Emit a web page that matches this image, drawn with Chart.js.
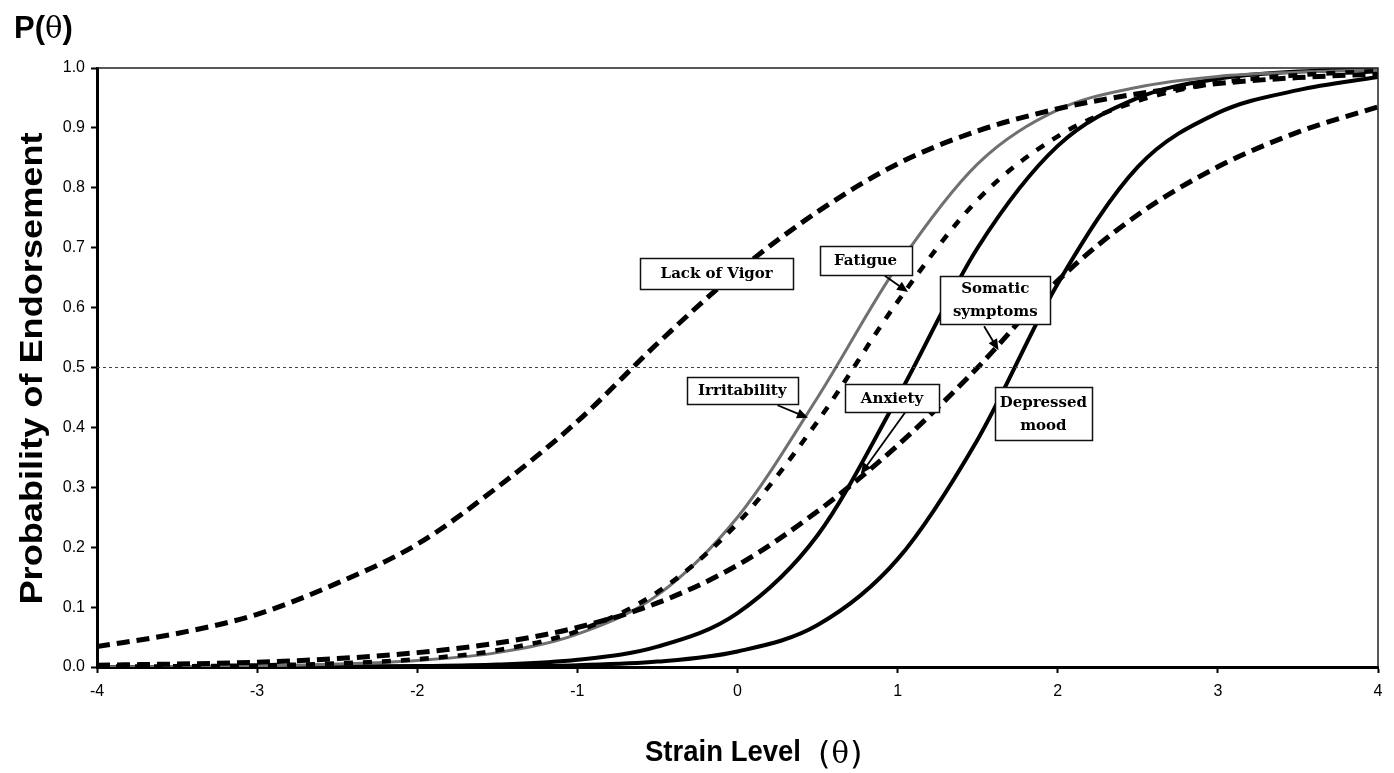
<!DOCTYPE html>
<html>
<head>
<meta charset="utf-8">
<script src="https://cdn.jsdelivr.net/npm/chart.js@4.4.1/dist/chart.umd.min.js"></script>
<style>
    html, body { margin: 0; padding: 0; background: #fff; }
    #wrap { width: 1394px; height: 773px; position: relative; }
</style>
</head>
<body>
<div id="wrap"><canvas id="irtChart"></canvas></div>
<script>
// Strain level (theta) sample points
const theta = [-4, -3.5, -3, -2.5, -2, -1.5, -1, -0.5, 0, 0.5, 1, 1.5, 2, 2.5, 3, 3.5, 4];

// P(theta) for each symptom
const lackOfVigor  = [0.034, 0.056, 0.088, 0.14, 0.205, 0.30, 0.41, 0.54, 0.66, 0.76, 0.84, 0.895, 0.932, 0.957, 0.974, 0.984, 0.99];
const irritability = [0.0003, 0.0008, 0.002, 0.005, 0.011, 0.024, 0.055, 0.12, 0.25, 0.45, 0.67, 0.84, 0.93, 0.968, 0.986, 0.993, 0.997];
const fatigue      = [0.0005, 0.0012, 0.0026, 0.006, 0.013, 0.028, 0.06, 0.125, 0.24, 0.41, 0.61, 0.78, 0.886, 0.945, 0.975, 0.988, 0.995];
const anxiety      = [0, 0.0001, 0.0002, 0.0006, 0.0015, 0.004, 0.012, 0.034, 0.09, 0.22, 0.45, 0.70, 0.87, 0.95, 0.982, 0.994, 0.998];
const somatic      = [0.003, 0.005, 0.008, 0.014, 0.024, 0.04, 0.066, 0.107, 0.17, 0.26, 0.37, 0.50, 0.645, 0.755, 0.835, 0.893, 0.935];
const depressed    = [0, 0, 0.0001, 0.0002, 0.0004, 0.001, 0.003, 0.009, 0.026, 0.07, 0.18, 0.38, 0.64, 0.835, 0.925, 0.963, 0.985];

// 50% reference line
const refTheta = [-4, 4];
const refLine  = [0.5, 0.5];

// Curve labels (boxes) and their arrows, in data units
const labelBoxes = [
    { lines: ["Lack of Vigor"], x: -0.13, y: 0.657, w: 153, h: 31 },
    { lines: ["Fatigue"], x: 0.80, y: 0.679, w: 92, h: 29 },
    { lines: ["Somatic", "symptoms"], x: 1.61, y: 0.613, w: 110, h: 48 },
    { lines: ["Irritability"], x: 0.03, y: 0.462, w: 111, h: 27 },
    { lines: ["Anxiety"], x: 0.965, y: 0.449, w: 94, h: 28 },
    { lines: ["Depressed", "mood"], x: 1.91, y: 0.423, w: 97, h: 53 }
];
const arrows = [
    { from: [0.92, 0.653], to: [1.065, 0.626] },   // Fatigue
    { from: [0.25, 0.437], to: [0.44, 0.416] },    // Irritability
    { from: [1.54, 0.569], to: [1.63, 0.529] },    // Somatic symptoms
    { from: [1.05, 0.426], to: [0.77, 0.322] }     // Anxiety
];

function pts(ys, xs) {
    return (xs || theta).map((t, i) => ({ x: t, y: ys[i] }));
}

function curve(label, ys, opts) {
    return Object.assign({
        label: label,
        data: pts(ys),
        borderColor: "#000",
        borderWidth: 4,
        pointRadius: 0,
        fill: false,
        cubicInterpolationMode: "monotone"
    }, opts);
}

function drawArrow(ctx, x1, y1, x2, y2) {
    const ang = Math.atan2(y2 - y1, x2 - x1);
    const len = 12, half = 0.42;
    ctx.beginPath();
    ctx.moveTo(x1, y1);
    ctx.lineTo(x2 - Math.cos(ang) * len * 0.7, y2 - Math.sin(ang) * len * 0.7);
    ctx.stroke();
    ctx.beginPath();
    ctx.moveTo(x2, y2);
    ctx.lineTo(x2 - len * Math.cos(ang - half), y2 - len * Math.sin(ang - half));
    ctx.lineTo(x2 - len * Math.cos(ang + half), y2 - len * Math.sin(ang + half));
    ctx.closePath();
    ctx.fill();
}

const overlay = {
    id: "overlay",
    afterDatasetsDraw(chart) {
        const { ctx, chartArea: a, scales: { x, y } } = chart;
        ctx.save();

        // thin top / right frame
        ctx.strokeStyle = "#222";
        ctx.lineWidth = 1.5;
        ctx.beginPath();
        ctx.moveTo(a.left, a.top);
        ctx.lineTo(a.right, a.top);
        ctx.lineTo(a.right, a.bottom);
        ctx.stroke();

        // arrows
        ctx.strokeStyle = "#000";
        ctx.fillStyle = "#000";
        ctx.lineWidth = 1.8;
        arrows.forEach(ar => {
            drawArrow(ctx,
                x.getPixelForValue(ar.from[0]), y.getPixelForValue(ar.from[1]),
                x.getPixelForValue(ar.to[0]), y.getPixelForValue(ar.to[1]));
        });

        // label boxes
        ctx.font = 'bold 15px "DejaVu Serif"';
        ctx.textAlign = "center";
        ctx.textBaseline = "middle";
        labelBoxes.forEach(b => {
            const cx = x.getPixelForValue(b.x);
            const cy = y.getPixelForValue(b.y);
            const left = Math.round(cx - b.w / 2) + 0.5;
            const top = Math.round(cy - b.h / 2) + 0.5;
            ctx.fillStyle = "#fff";
            ctx.fillRect(left, top, b.w, b.h);
            ctx.strokeStyle = "#111";
            ctx.lineWidth = 1.5;
            ctx.strokeRect(left, top, b.w, b.h);
            ctx.fillStyle = "#000";
            const lh = 23;
            const startY = cy - (b.lines.length - 1) * lh / 2;
            b.lines.forEach((ln, i) => ctx.fillText(ln, cx, startY + i * lh + 1));
        });
        ctx.restore();
    },
    afterDraw(chart) {
        const { ctx, chartArea: a } = chart;
        ctx.save();
        ctx.fillStyle = "#000";
        ctx.textBaseline = "alphabetic";
        ctx.textAlign = "left";

        // P(theta) at top-left
        let px = 14;
        ctx.font = 'bold 31px "Liberation Sans"';
        ctx.fillText("P(", px, 38);
        px += ctx.measureText("P(").width;
        ctx.font = '29px "DejaVu Serif"';
        ctx.fillText("\u03b8", px, 38);
        px += ctx.measureText("\u03b8").width;
        ctx.font = 'bold 31px "Liberation Sans"';
        ctx.fillText(")", px, 38);

        // x-axis title (slightly condensed bold)
        const xt = "Strain Level";
        ctx.font = 'bold 30px "Liberation Sans"';
        const xw = ctx.measureText(xt).width;
        ctx.save();
        ctx.translate(645, 761);
        ctx.scale(156 / xw, 1);
        ctx.fillText(xt, 0, 0);
        ctx.restore();
        let tx = 818;
        ctx.font = '32px "DejaVu Sans"';
        ctx.fillText("(", tx, 764);
        tx += ctx.measureText("(").width + 1;
        ctx.font = '29px "DejaVu Serif"';
        ctx.fillText("\u03b8", tx, 763);
        tx += ctx.measureText("\u03b8").width + 1;
        ctx.font = '32px "DejaVu Sans"';
        ctx.fillText(")", tx, 764);

        // y-axis title, rotated and stretched along its length
        const yt = "Probability of Endorsement";
        ctx.font = 'bold 31px "Liberation Sans"';
        const w = ctx.measureText(yt).width;
        const target = 472;
        ctx.translate(42, (a.top + a.bottom) / 2 + 1);
        ctx.rotate(-Math.PI / 2);
        ctx.scale(target / w, 1);
        ctx.textAlign = "center";
        ctx.fillText(yt, 0, 0);
        ctx.restore();
    }
};

const ctx = document.getElementById("irtChart");

new Chart(ctx, {
    type: "line",
    data: {
        datasets: [
            {
                label: "50%",
                data: pts(refLine, refTheta),
                borderColor: "#444",
                borderWidth: 1,
                borderDash: [3, 3],
                pointRadius: 0,
                fill: false
            },
            curve("Lack of Vigor", lackOfVigor, { borderWidth: 5, borderDash: [13, 7] }),
            curve("Somatic symptoms", somatic, { borderWidth: 5, borderDash: [13, 7] }),
            curve("Fatigue", fatigue, { borderWidth: 4.5, borderDash: [9, 10] }),
            curve("Irritability", irritability, { borderColor: "#707070", borderWidth: 3 }),
            curve("Anxiety", anxiety, { borderWidth: 4 }),
            curve("Depressed mood", depressed, { borderWidth: 4 })
        ]
    },
    options: {
        responsive: true,
        maintainAspectRatio: false,
        animation: false,
        layout: { padding: { top: 68, right: 16, left: 0, bottom: 0 } },
        plugins: {
            legend: { display: false },
            tooltip: { enabled: false }
        },
        scales: {
            x: {
                type: "linear",
                min: -4,
                max: 4,
                afterFit: scale => { scale.height = 106; },
                ticks: {
                    stepSize: 1,
                    color: "#000",
                    padding: 9,
                    font: { family: "Liberation Sans", size: 16 }
                },
                grid: { drawOnChartArea: false, tickLength: 6, tickWidth: 2, tickColor: "#000" },
                border: { display: true, width: 3, color: "#000" }
            },
            y: {
                min: 0,
                max: 1,
                afterFit: scale => { scale.width = 97; },
                ticks: {
                    stepSize: 0.1,
                    color: "#000",
                    padding: 6,
                    font: { family: "Liberation Sans", size: 16 },
                    callback: v => v.toFixed(1)
                },
                grid: { drawOnChartArea: false, tickLength: 6, tickWidth: 2, tickColor: "#000" },
                border: { display: true, width: 3, color: "#000" }
            }
        }
    },
    plugins: [overlay]
});
</script>
</body>
</html>
